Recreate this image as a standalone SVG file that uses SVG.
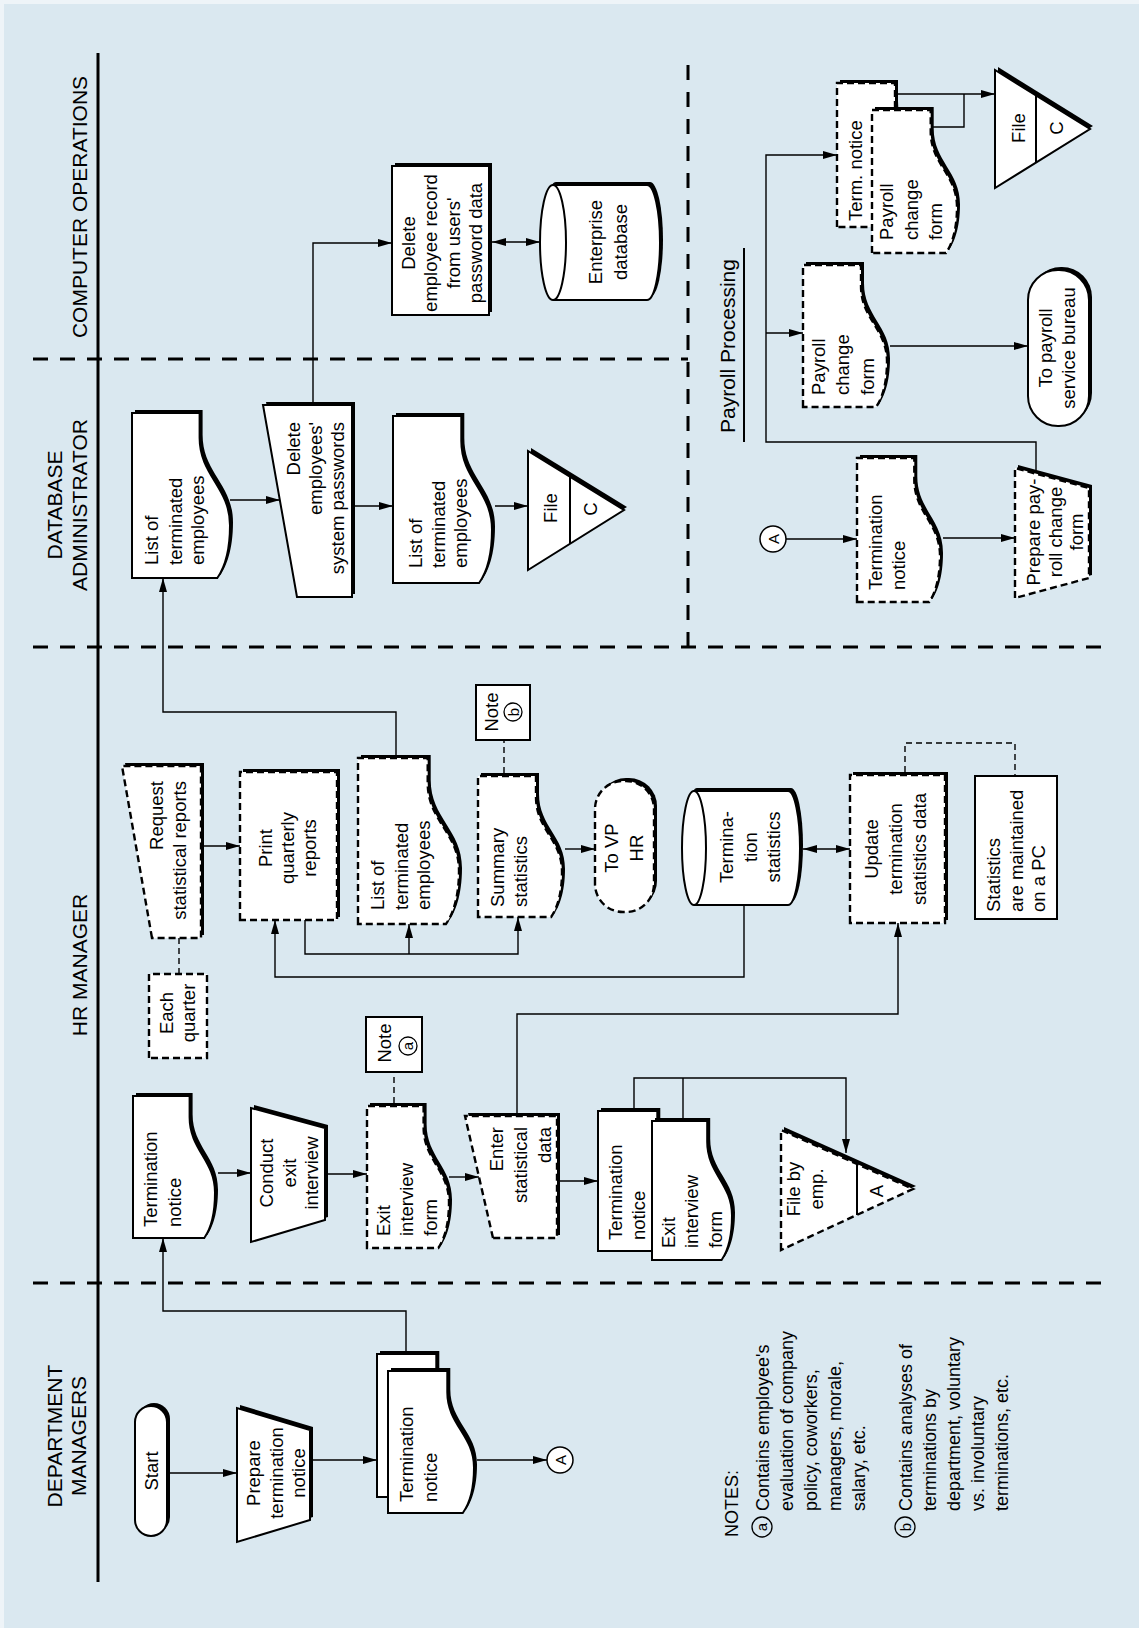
<svg xmlns="http://www.w3.org/2000/svg" width="1139" height="1628" viewBox="0 0 1139 1628">
<defs>
<style>
.sh{fill:#000;stroke:none}
.n{fill:#fff;stroke:#000;stroke-width:2}
.d{fill:#fff;stroke:#000;stroke-width:2.4;stroke-dasharray:7 4}
.c{fill:none;stroke:#000;stroke-width:1.4}
.cd{fill:none;stroke:#000;stroke-width:1.4;stroke-dasharray:6 4}
.lane{fill:none;stroke:#000;stroke-width:3;stroke-dasharray:15 12}
.sol{fill:none;stroke:#000;stroke-width:3}
.cc{fill:#fff;stroke:#000;stroke-width:1.5}
.cn{fill:none;stroke:#000;stroke-width:1.3}
text{font-family:"Liberation Sans",Arial,Helvetica,sans-serif;font-size:18.5px;fill:#000}
.h{font-size:21px}
.m{text-anchor:middle}
.e{text-anchor:end}
.sm{font-size:15px}
.nt{font-size:18px}
</style>
<marker id="ar" viewBox="0 0 14 8" refX="14" refY="4" markerWidth="14" markerHeight="8" markerUnits="userSpaceOnUse" orient="auto-start-reverse"><path d="M0,0 L14,4 L0,8 z" fill="#000"/></marker>
</defs>
<rect x="0" y="0" width="1139" height="1628" fill="#eef4f8"/>
<rect x="4" y="4" width="1135" height="1624" fill="#dae8f0"/>
<g transform="translate(0,1628) rotate(-90)">
<g id="lanes">
<line class="sol" x1="46" y1="98" x2="1575" y2="98"/>
<line class="lane" x1="1269" y1="33" x2="1269" y2="688"/>
<line class="lane" x1="981" y1="33" x2="981" y2="1113"/>
<line class="lane" x1="345" y1="33" x2="345" y2="1113"/>
<line class="lane" x1="981" y1="688" x2="1575" y2="688"/>
<text class="h m" x="1421" y="87">COMPUTER OPERATIONS</text>
<text class="h m" x="1123" y="62">DATABASE</text>
<text class="h m" x="1123" y="87">ADMINISTRATOR</text>
<text class="h m" x="663" y="87">HR MANAGER</text>
<text class="h m" x="192" y="62">DEPARTMENT</text>
<text class="h m" x="192" y="86">MANAGERS</text>
<text class="h" x="1195" y="735">Payroll Processing</text>
<line x1="1186" y1="744" x2="1380" y2="744" stroke="#000" stroke-width="2"/>
</g>

<g id="start">
<rect class="sh" x="95" y="138" width="130" height="32" rx="16"/>
<rect class="n" x="92" y="135" width="130" height="32" rx="16"/>
<text class="m" x="157" y="158">Start</text>
</g>
<g id="prep_term">
<polygon class="sh" points="89,240 223,240 201,313 111,313"/>
<polygon class="n" points="86,237 220,237 198,310 108,310"/>
<text class="m" x="155" y="260">Prepare</text>
<text class="m" x="155" y="283">termination</text>
<text class="m" x="155" y="305">notice</text>
</g>
<g id="term_dept">
<path class="sh" transform="translate(3,3)" d="M131,377 H274 V436.3 H252.6 C219.7,436.3 209.7,463 176.8,463 C152.5,463 138.2,457 131,451.8 Z"/>
<path class="n" d="M131,377 H274 V436.3 H252.6 C219.7,436.3 209.7,463 176.8,463 C152.5,463 138.2,457 131,451.8 Z"/>
<path class="sh" transform="translate(3,3)" d="M115,388 H257 V447.3 H235.7 C203,447.3 193.1,474 160.4,474 C136.3,474 122.1,468 115,462.8 Z"/>
<path class="n" d="M115,388 H257 V447.3 H235.7 C203,447.3 193.1,474 160.4,474 C136.3,474 122.1,468 115,462.8 Z"/>
<text x="126" y="413">Termination</text>
<text x="126" y="437">notice</text>
</g>
<g id="conn_a1">
<circle class="cc" cx="168" cy="560" r="13"/>
<text class="m sm" x="168" y="565.5">A</text>
</g>

<g id="term_hr">
<path class="sh" transform="translate(3,3)" d="M390,133 H532 V189.6 H510.7 C478,189.6 468.1,215 435.4,215 C411.3,215 397.1,209.3 390,204.3 Z"/>
<path class="n" d="M390,133 H532 V189.6 H510.7 C478,189.6 468.1,215 435.4,215 C411.3,215 397.1,209.3 390,204.3 Z"/>
<text x="401" y="157">Termination</text>
<text x="401" y="181">notice</text>
</g>
<g id="conduct">
<polygon class="sh" points="389,254 523,254 503,328 411,328"/>
<polygon class="n" points="386,251 520,251 500,325 408,325"/>
<text class="m" x="455" y="273">Conduct</text>
<text class="m" x="455" y="296">exit</text>
<text class="m" x="455" y="318">interview</text>
</g>
<g id="exit_form">
<path class="sh" transform="translate(3,3)" d="M380,367 H522 V423.6 H500.7 C468,423.6 458.1,449 425.4,449 C401.3,449 387.1,443.3 380,438.3 Z"/>
<path class="d" d="M380,367 H522 V423.6 H500.7 C468,423.6 458.1,449 425.4,449 C401.3,449 387.1,443.3 380,438.3 Z"/>
<text x="392" y="390">Exit</text>
<text x="392" y="413">interview</text>
<text x="392" y="437">form</text>
</g>
<g id="note_a">
<rect class="n" x="556" y="366" width="55" height="56"/>
<text class="m" x="585" y="391">Note</text>
<circle class="cn" cx="582" cy="408" r="9"/>
<text class="m sm" x="582" y="413">a</text>
</g>
<g id="enter_stat">
<polygon class="sh" points="393,496 515,468 515,560 393,560"/>
<polygon class="d" points="390,493 512,465 512,557 390,557"/>
<text class="e" x="501" y="503">Enter</text>
<text class="e" x="501" y="527">statistical</text>
<text class="e" x="501" y="551">data</text>
</g>
<g id="stack_hr">
<path class="sh" transform="translate(3,3)" d="M377,598 H517 V657.3 H496 C463.8,657.3 454,684 421.8,684 C398,684 384,678 377,672.8 Z"/>
<path class="n" d="M377,598 H517 V657.3 H496 C463.8,657.3 454,684 421.8,684 C398,684 384,678 377,672.8 Z"/>
<text x="388" y="622">Termination</text>
<text x="388" y="645">notice</text>
<path class="sh" transform="translate(3,3)" d="M368,652 H507 V707.2 H486.2 C454.2,707.2 444.5,732 412.5,732 C388.9,732 375,726.4 368,721.6 Z"/>
<path class="n" d="M368,652 H507 V707.2 H486.2 C454.2,707.2 444.5,732 412.5,732 C388.9,732 375,726.4 368,721.6 Z"/>
<text x="380" y="675">Exit</text>
<text x="380" y="698">interview</text>
<text x="380" y="722">form</text>
</g>
<g id="file_emp">
<polygon class="sh" points="381,784 501,784 442,916"/>
<polygon class="d" points="378,781 498,781 439,913"/>
<line x1="413" y1="857" x2="464" y2="857" stroke="#000" stroke-width="2"/>
<text class="m" x="439" y="800">File by</text>
<text class="m" x="439" y="823">emp.</text>
<text class="m" x="437" y="883">A</text>
</g>
<g id="request">
<polygon class="sh" points="693,155 865,125 865,204 693,204"/>
<polygon class="d" points="690,152 862,122 862,201 690,201"/>
<text class="e" x="847" y="163">Request</text>
<text class="e" x="847" y="186">statistical reports</text>
</g>
<g id="each_quarter">
<rect class="d" x="570" y="149" width="84" height="58"/>
<text class="m" x="615" y="173">Each</text>
<text class="m" x="615" y="195">quarter</text>
</g>
<g id="print">
<rect class="sh" x="711" y="243" width="148" height="97"/>
<rect class="d" x="708" y="240" width="148" height="97"/>
<text class="m" x="780" y="272">Print</text>
<text class="m" x="780" y="294">quarterly</text>
<text class="m" x="780" y="316">reports</text>
</g>
<g id="list_hr">
<path class="sh" transform="translate(3,3)" d="M704,358 H870 V427.7 H845.1 C806.9,427.7 795.3,459 757.1,459 C728.9,459 712.3,451.9 704,445.9 Z"/>
<path class="d" d="M704,358 H870 V427.7 H845.1 C806.9,427.7 795.3,459 757.1,459 C728.9,459 712.3,451.9 704,445.9 Z"/>
<text x="718" y="384">List of</text>
<text x="718" y="408">terminated</text>
<text x="718" y="430">employees</text>
</g>
<g id="summary">
<path class="sh" transform="translate(3,3)" d="M711,478 H852 V536 H830.9 C798.4,536 788.6,562 756.1,562 C732.2,562 718.1,556.1 711,551.1 Z"/>
<path class="d" d="M711,478 H852 V536 H830.9 C798.4,536 788.6,562 756.1,562 C732.2,562 718.1,556.1 711,551.1 Z"/>
<text x="721" y="504">Summary</text>
<text x="721" y="527">statistics</text>
</g>
<g id="note_b">
<rect class="n" x="888" y="476" width="55" height="54"/>
<text class="m" x="916" y="498">Note</text>
<circle class="cn" cx="916" cy="513" r="9"/>
<text class="m sm" x="916" y="518.5">b</text>
</g>
<g id="to_vp">
<rect class="sh" x="719" y="598" width="131" height="59" rx="28"/>
<rect class="d" x="716" y="595" width="131" height="59" rx="28"/>
<text class="m" x="780" y="618">To VP</text>
<text class="m" x="780" y="643">HR</text>
</g>
<g id="term_stats">
<path class="sh" transform="translate(3,3)" d="M723,694 A57,12 0 0 1 837,694 V788 A57,12 0 0 1 723,788 Z"/>
<path class="n" d="M723,694 A57,12 0 0 1 837,694 V788 A57,12 0 0 1 723,788 Z"/>
<path class="cn" style="stroke-width:2" d="M723,694 A57,12 0 0 0 837,694"/>
<text class="m" x="781" y="733">Termina-</text>
<text class="m" x="781" y="757">tion</text>
<text class="m" x="781" y="780">statistics</text>
</g>
<g id="update">
<rect class="sh" x="708" y="853" width="148" height="95"/>
<rect class="d" x="705" y="850" width="148" height="95"/>
<text class="m" x="779" y="878">Update</text>
<text class="m" x="779" y="902">termination</text>
<text class="m" x="779" y="926">statistics data</text>
</g>
<g id="stats_pc">
<rect class="n" x="709" y="975" width="143" height="82"/>
<text x="716" y="1000">Statistics</text>
<text x="716" y="1023">are maintained</text>
<text x="716" y="1045">on a PC</text>
</g>

<g id="list_db1">
<path class="sh" transform="translate(3,3)" d="M1050,132 H1215 V199.6 H1190.3 C1152.3,199.6 1140.8,230 1102.8,230 C1074.8,230 1058.3,223.1 1050,217.3 Z"/>
<path class="n" d="M1050,132 H1215 V199.6 H1190.3 C1152.3,199.6 1140.8,230 1102.8,230 C1074.8,230 1058.3,223.1 1050,217.3 Z"/>
<text x="1063" y="158">List of</text>
<text x="1063" y="182">terminated</text>
<text x="1063" y="204">employees</text>
</g>
<g id="del_pw">
<polygon class="sh" points="1034,300 1226,266 1226,355 1034,355"/>
<polygon class="n" points="1031,297 1223,263 1223,352 1031,352"/>
<text class="e" x="1206" y="300">Delete</text>
<text class="e" x="1206" y="322">employees'</text>
<text class="e" x="1206" y="344">system passwords</text>
</g>
<g id="list_db2">
<path class="sh" transform="translate(3,3)" d="M1045,393 H1212 V461.3 H1187 C1148.5,461.3 1136.9,492 1098.4,492 C1070,492 1053.4,485.1 1045,479.1 Z"/>
<path class="n" d="M1045,393 H1212 V461.3 H1187 C1148.5,461.3 1136.9,492 1098.4,492 C1070,492 1053.4,485.1 1045,479.1 Z"/>
<text x="1060" y="422">List of</text>
<text x="1060" y="445">terminated</text>
<text x="1060" y="467">employees</text>
</g>
<g id="file_c_db">
<polygon class="sh" points="1061,531 1180,531 1121,627"/>
<polygon class="n" points="1058,528 1177,528 1118,624"/>
<line x1="1084" y1="570" x2="1151" y2="570" stroke="#000" stroke-width="2"/>
<text class="m" x="1120" y="557">File</text>
<text class="m" x="1119" y="597">C</text>
</g>

<g id="del_rec">
<rect class="sh" x="1316" y="395" width="149" height="97"/>
<rect class="n" x="1313" y="392" width="149" height="97"/>
<text class="m" x="1385" y="415">Delete</text>
<text class="m" x="1385" y="437">employee record</text>
<text class="m" x="1385" y="460">from users'</text>
<text class="m" x="1385" y="482">password data</text>
</g>
<g id="ent_db">
<path class="sh" transform="translate(3,3)" d="M1328,553 A57.5,13 0 0 1 1443,553 V647 A57.5,13 0 0 1 1328,647 Z"/>
<path class="n" d="M1328,553 A57.5,13 0 0 1 1443,553 V647 A57.5,13 0 0 1 1328,647 Z"/>
<path class="cn" style="stroke-width:2" d="M1328,553 A57.5,13 0 0 0 1443,553"/>
<text class="m" x="1386" y="602">Enterprise</text>
<text class="m" x="1386" y="627">database</text>
</g>

<g id="conn_a2">
<circle class="cc" cx="1089" cy="773" r="13"/>
<text class="m sm" x="1089" y="778.5">A</text>
</g>
<g id="term_pay">
<path class="sh" transform="translate(3,3)" d="M1026,857 H1170 V914.3 H1148.4 C1115.3,914.3 1105.2,940 1072.1,940 C1047.6,940 1033.2,934.2 1026,929.2 Z"/>
<path class="d" d="M1026,857 H1170 V914.3 H1148.4 C1115.3,914.3 1105.2,940 1072.1,940 C1047.6,940 1033.2,934.2 1026,929.2 Z"/>
<text x="1038" y="882">Termination</text>
<text x="1038" y="905">notice</text>
</g>
<g id="prep_pay">
<polygon class="sh" points="1033,1018 1163,1018 1143,1092 1053,1092"/>
<polygon class="d" points="1030,1015 1160,1015 1140,1089 1050,1089"/>
<text class="m" x="1096" y="1040">Prepare pay-</text>
<text class="m" x="1096" y="1062">roll change</text>
<text class="m" x="1096" y="1083">form</text>
</g>
<g id="pcf1">
<path class="sh" transform="translate(3,3)" d="M1221,803 H1363 V861 H1341.7 C1309,861 1299.1,887 1266.4,887 C1242.3,887 1228.1,881.1 1221,876.1 Z"/>
<path class="d" d="M1221,803 H1363 V861 H1341.7 C1309,861 1299.1,887 1266.4,887 C1242.3,887 1228.1,881.1 1221,876.1 Z"/>
<text x="1233" y="825">Payroll</text>
<text x="1233" y="849">change</text>
<text x="1233" y="874">form</text>
</g>
<g id="to_bureau">
<rect class="sh" x="1205" y="1031" width="156" height="61" rx="30"/>
<rect class="n" x="1202" y="1028" width="156" height="61" rx="30"/>
<text class="m" x="1280" y="1052">To payroll</text>
<text class="m" x="1280" y="1075">service bureau</text>
</g>
<g id="stack_pay">
<path class="sh" transform="translate(3,3)" d="M1401,837 H1545 V895 H1523.4 C1490.3,895 1480.2,921 1447.1,921 C1422.6,921 1408.2,915.1 1401,910.1 Z"/>
<path class="d" d="M1401,837 H1545 V895 H1523.4 C1490.3,895 1480.2,921 1447.1,921 C1422.6,921 1408.2,915.1 1401,910.1 Z"/>
<text x="1407" y="862">Term. notice</text>
<path class="sh" transform="translate(3,3)" d="M1375,872 H1518 V930.7 H1496.6 C1463.7,930.7 1453.7,957 1420.8,957 C1396.5,957 1382.2,951 1375,946 Z"/>
<path class="d" d="M1375,872 H1518 V930.7 H1496.6 C1463.7,930.7 1453.7,957 1420.8,957 C1396.5,957 1382.2,951 1375,946 Z"/>
<text x="1388" y="893">Payroll</text>
<text x="1388" y="918">change</text>
<text x="1388" y="942">form</text>
</g>
<g id="file_c_pay">
<polygon class="sh" points="1443,998 1561,998 1502,1093"/>
<polygon class="n" points="1440,995 1558,995 1499,1090"/>
<line x1="1465" y1="1036" x2="1533" y2="1036" stroke="#000" stroke-width="2"/>
<text class="m" x="1500" y="1025">File</text>
<text class="m" x="1500" y="1063">C</text>
</g>

<g id="notes">
<text class="nt" x="91" y="738">NOTES:</text>
<circle class="cn" cx="101" cy="762" r="10"/>
<text class="m sm" x="101" y="767">a</text>
<text class="nt" x="117" y="769">Contains employee's</text>
<text class="nt" x="117" y="793">evaluation of company</text>
<text class="nt" x="117" y="817">policy, coworkers,</text>
<text class="nt" x="117" y="841">managers, morale,</text>
<text class="nt" x="117" y="865">salary, etc.</text>
<circle class="cn" cx="101" cy="905" r="10"/>
<text class="m sm" x="101" y="910.5">b</text>
<text class="nt" x="117" y="912">Contains analyses of</text>
<text class="nt" x="117" y="936">terminations by</text>
<text class="nt" x="117" y="960">department, voluntary</text>
<text class="nt" x="117" y="984">vs. involuntary</text>
<text class="nt" x="117" y="1008">terminations, etc.</text>
</g>

<g id="connectors">
<path class="c" marker-end="url(#ar)" d="M155,170 V237"/>
<path class="c" marker-end="url(#ar)" d="M168,313 V377"/>
<path class="c" marker-end="url(#ar)" d="M168,477 V547"/>
<path class="c" marker-end="url(#ar)" d="M277,406 H317 V163 H390"/>
<path class="c" marker-end="url(#ar)" d="M455,218 V251"/>
<path class="c" marker-end="url(#ar)" d="M454,328 V367"/>
<path class="c" marker-end="url(#ar)" d="M451,449 V479"/>
<path class="c" marker-end="url(#ar)" d="M447,560 V598"/>
<path class="c" marker-end="url(#ar)" d="M520,634 H550 V846 H475"/>
<path class="c" d="M510,683 H550"/>
<path class="c" marker-end="url(#ar)" d="M708,305 H674 V518 H711"/>
<path class="c" marker-end="url(#ar)" d="M674,409 H704"/>
<path class="c" marker-end="url(#ar)" d="M723,744 H651 V275 H708"/>
<path class="c" marker-end="url(#ar)" d="M873,396 H916 V163 H1050"/>
<path class="c" marker-end="url(#ar)" d="M779,565 V595"/>
<path class="c" marker-start="url(#ar)" marker-end="url(#ar)" d="M779,803 V850"/>
<path class="c" marker-end="url(#ar)" d="M515,517 H614 V898 H705"/>
<path class="c" marker-end="url(#ar)" d="M782,204 V240"/>
<path class="c" marker-end="url(#ar)" d="M1128,230 V280"/>
<path class="c" marker-end="url(#ar)" d="M1122,355 V393"/>
<path class="c" marker-end="url(#ar)" d="M1122,495 V528"/>
<path class="c" marker-end="url(#ar)" d="M1226,313 H1385 V392"/>
<path class="c" marker-start="url(#ar)" marker-end="url(#ar)" d="M1386,492 V540"/>
<path class="c" marker-end="url(#ar)" d="M1089,786 V857"/>
<path class="c" marker-end="url(#ar)" d="M1090,943 V1015"/>
<path class="c" marker-end="url(#ar)" d="M1158,1036 H1186 V766 H1473 V837"/>
<path class="c" marker-end="url(#ar)" d="M1295,766 V803"/>
<path class="c" marker-end="url(#ar)" d="M1282,890 V1028"/>
<path class="c" marker-end="url(#ar)" d="M1534,897 V995"/>
<path class="c" d="M1501,931 V964 H1534"/>
<path class="cd" d="M525,394 H556"/>
<path class="cd" d="M855,504 H888"/>
<path class="cd" d="M654,179 H690"/>
<path class="cd" d="M856,905 H885 V1015 H852"/>
</g>
</g>
</svg>
